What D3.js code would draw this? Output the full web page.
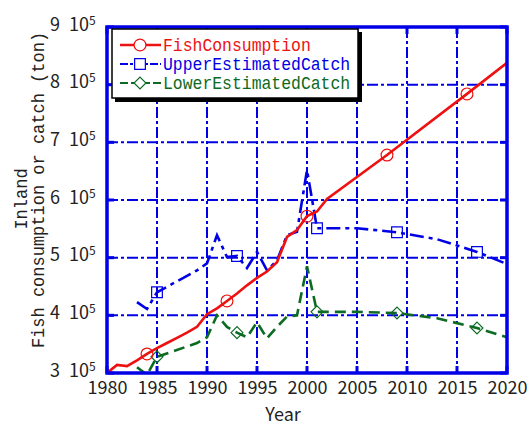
<!DOCTYPE html>
<html>
<head>
<meta charset="utf-8">
<script src="https://cdn.jsdelivr.net/npm/d3@7"></script>
<style>
  body { margin: 0; background: #fff; }
  svg { display: block; }
</style>
</head>
<body>
<div id="chart"></div>
<script>
// values (tons)
var fishYears = [1980,1981,1982,1983,1984,1985,1986,1987,1988,1989,1990,1991,1992,1993,1994,1995,1996,1997,1998,1999,2000,2001,2002,2008,2016,2020];
var fishValues = [3.00e5,3.14e5,3.12e5,3.22e5,3.33e5,3.43e5,3.52e5,3.61e5,3.70e5,3.80e5,4.02e5,4.12e5,4.25e5,4.38e5,4.52e5,4.65e5,4.76e5,4.92e5,5.36e5,5.48e5,5.72e5,5.80e5,6.02e5,6.78e5,7.84e5,8.38e5];
var fishMarkYears = [1984,1992,2000,2008,2016];

var upperYears = [1983,1984,1985,1989,1990,1991,1992,1993,1994,1995,1996,1997,1998,1999,2000,2001,2005,2009,2013,2017,2020];
var upperValues = [4.23e5,4.11e5,4.40e5,4.78e5,4.90e5,5.39e5,5.01e5,5.03e5,4.82e5,5.10e5,4.78e5,4.95e5,5.39e5,5.45e5,6.52e5,5.51e5,5.51e5,5.44e5,5.32e5,5.10e5,4.89e5];
var upperMarkYears = [1985,1993,2001,2009,2017];

var lowerYears = [1983,1984,1985,1989,1990,1991,1992,1993,1994,1995,1996,1997,1998,1999,2000,2001,2005,2009,2013,2017,2020];
var lowerValues = [3.10e5,2.97e5,3.28e5,3.52e5,3.62e5,4.00e5,3.80e5,3.70e5,3.62e5,3.88e5,3.60e5,3.80e5,3.98e5,4.00e5,4.85e5,4.06e5,4.06e5,4.04e5,3.95e5,3.78e5,3.62e5];
var lowerMarkYears = [1985,1993,2001,2009,2017];

var xTicks = [1980,1985,1990,1995,2000,2005,2010,2015,2020];
var yTicks = [3e5,4e5,5e5,6e5,7e5,8e5,9e5];
var legendLabels = ["FishConsumption","UpperEstimatedCatch","LowerEstimatedCatch"];

var W = 529, H = 425;
var pL = 107, pR = 507, pT = 27, pB = 373;
var BLUE = "#0000e6", RED = "#ee1111", GREEN = "#0b6b22", INK = "#222";

var svg = d3.select("#chart").append("svg").attr("width", W).attr("height", H);

var x = d3.scaleLinear().domain([1980, 2020]).range([pL, pR]);
var y = d3.scaleLinear().domain([3e5, 9e5]).range([pB, pT]);

svg.append("defs").append("clipPath").attr("id", "plotclip")
    .append("rect").attr("x", pL).attr("y", pT)
    .attr("width", pR - pL).attr("height", pB - pT);

// grid, dash-dot
var grid = svg.append("g");
grid.selectAll("line.vx").data(xTicks.slice(1, -1)).enter().append("line")
    .attr("x1", function(d) { return x(d); }).attr("x2", function(d) { return x(d); })
    .attr("y1", pT).attr("y2", pB)
    .attr("stroke", BLUE).attr("stroke-width", 2).attr("stroke-dasharray", "11,3,3,3");
grid.selectAll("line.hy").data(yTicks.slice(1, -1)).enter().append("line")
    .attr("y1", function(d) { return y(d); }).attr("y2", function(d) { return y(d); })
    .attr("x1", pL).attr("x2", pR)
    .attr("stroke", BLUE).attr("stroke-width", 2).attr("stroke-dasharray", "11,3,3,3");

// major ticks inward
xTicks.forEach(function(d) {
    grid.append("line").attr("x1", x(d)).attr("x2", x(d)).attr("y1", pB).attr("y2", pB - 7)
        .attr("stroke", BLUE).attr("stroke-width", 3);
    grid.append("line").attr("x1", x(d)).attr("x2", x(d)).attr("y1", pT).attr("y2", pT + 7)
        .attr("stroke", BLUE).attr("stroke-width", 3);
});
yTicks.forEach(function(d) {
    grid.append("line").attr("y1", y(d)).attr("y2", y(d)).attr("x1", pL).attr("x2", pL + 7)
        .attr("stroke", BLUE).attr("stroke-width", 3);
    grid.append("line").attr("y1", y(d)).attr("y2", y(d)).attr("x1", pR).attr("x2", pR - 7)
        .attr("stroke", BLUE).attr("stroke-width", 3);
});

// series
function series(years, values) {
    return years.map(function(d, i) { return [d, values[i]]; });
}
function valueAt(years, values, yr) {
    return values[years.indexOf(yr)];
}
var line = d3.line().x(function(d) { return x(d[0]); }).y(function(d) { return y(d[1]); });

var plot = svg.append("g").attr("clip-path", "url(#plotclip)");

plot.append("path").datum(series(lowerYears, lowerValues)).attr("d", line)
    .attr("fill", "none").attr("stroke", GREEN).attr("stroke-width", 2.6)
    .attr("stroke-dasharray", "11,6");
plot.append("path").datum(series(upperYears, upperValues)).attr("d", line)
    .attr("fill", "none").attr("stroke", BLUE).attr("stroke-width", 2.6)
    .attr("stroke-dasharray", "14,5,4,5");
plot.append("path").datum(series(fishYears, fishValues)).attr("d", line)
    .attr("fill", "none").attr("stroke", RED).attr("stroke-width", 2.6);

// markers
var circleSym = d3.symbol().type(d3.symbolCircle).size(110);
var squareSym = d3.symbol().type(d3.symbolSquare).size(115);
var diamondSym = d3.symbol().type(d3.symbolDiamond2).size(90);

plot.selectAll("path.lm").data(lowerMarkYears).enter().append("path")
    .attr("d", diamondSym)
    .attr("transform", function(d) { return "translate(" + x(d) + "," + y(valueAt(lowerYears, lowerValues, d)) + ")"; })
    .attr("fill", "none").attr("stroke", GREEN).attr("stroke-width", 1.2);
plot.selectAll("path.um").data(upperMarkYears).enter().append("path")
    .attr("d", squareSym)
    .attr("transform", function(d) { return "translate(" + x(d) + "," + y(valueAt(upperYears, upperValues, d)) + ")"; })
    .attr("fill", "none").attr("stroke", BLUE).attr("stroke-width", 1.2);
plot.selectAll("path.fm").data(fishMarkYears).enter().append("path")
    .attr("d", circleSym)
    .attr("transform", function(d) { return "translate(" + x(d) + "," + y(valueAt(fishYears, fishValues, d)) + ")"; })
    .attr("fill", "none").attr("stroke", RED).attr("stroke-width", 1.2);

// frame
svg.append("rect").attr("x", pL).attr("y", pT)
    .attr("width", pR - pL).attr("height", pB - pT)
    .attr("fill", "none").attr("stroke", BLUE).attr("stroke-width", 3.5);

// x axis labels
var xAxis = d3.axisBottom(x).tickValues(xTicks).tickSize(0).tickPadding(0).tickFormat(d3.format("d"));
var gx = svg.append("g").attr("transform", "translate(0," + (pB + 21) + ")").call(xAxis);
gx.select(".domain").remove();
gx.selectAll("text").attr("dy", 0).attr("fill", INK)
    .style("font-family", "'Noto Sans CJK JP', 'Liberation Sans', sans-serif").style("font-size", "18px");

// y axis labels: "n 10^5"
var yAxis = d3.axisLeft(y).tickValues(yTicks).tickSize(0).tickFormat("");
var gy = svg.append("g").attr("transform", "translate(" + pL + ",0)").call(yAxis);
gy.select(".domain").remove();
gy.selectAll(".tick").each(function(d) {
    var g = d3.select(this);
    g.select("text").remove();
    var t = g.append("text").attr("y", 3).attr("fill", INK).attr("text-anchor", "start")
        .style("font-family", "'Noto Sans CJK JP', 'Liberation Sans', sans-serif").style("font-size", "18px");
    t.append("tspan").attr("x", -57).text(d / 1e5);
    t.append("tspan").attr("x", -38).text("10");
    t.append("tspan").attr("dy", -6).style("font-size", "12px").text("5");
});

// axis titles
var mono = "'Liberation Mono', 'DejaVu Sans Mono', monospace";
svg.append("text").attr("transform", "translate(283,421)").attr("text-anchor", "middle")
    .attr("fill", INK).style("font-family", "'Noto Sans CJK JP', sans-serif").style("font-size", "18px")
    .text("Year");
svg.append("text").attr("transform", "translate(27,199) rotate(-90)").attr("text-anchor", "middle")
    .attr("fill", INK).style("font-family", mono).style("font-size", "19px")
    .attr("textLength", 6 * 10.2).attr("lengthAdjust", "spacingAndGlyphs")
    .text("Inland");
svg.append("text").attr("transform", "translate(44,190) rotate(-90)").attr("text-anchor", "middle")
    .attr("fill", INK).style("font-family", mono).style("font-size", "19px")
    .attr("textLength", 31 * 10.2).attr("lengthAdjust", "spacingAndGlyphs")
    .text("Fish consumption or catch (ton)");

// legend
var lg = svg.append("g");
lg.append("rect").attr("x", 115).attr("y", 32).attr("width", 247).attr("height", 70).attr("fill", "#000");
lg.append("rect").attr("x", 112).attr("y", 29).attr("width", 246).attr("height", 69)
    .attr("fill", "#fff").attr("stroke", "#000").attr("stroke-width", 1.5);

var legColors = [RED, BLUE, GREEN];
var legDash = [null, "8,2,3,2", "8,3"];
var legSym = [circleSym, squareSym, diamondSym];
legendLabels.forEach(function(name, i) {
    var ly = 45 + i * 19;
    lg.append("line").attr("x1", 120).attr("x2", 161).attr("y1", ly).attr("y2", ly)
        .attr("stroke", legColors[i]).attr("stroke-width", i === 0 ? 2.6 : 2)
        .attr("stroke-dasharray", legDash[i]);
    lg.append("path").attr("d", legSym[i])
        .attr("transform", "translate(140," + ly + ")")
        .attr("fill", "#fff").attr("stroke", legColors[i]).attr("stroke-width", 1.2);
    lg.append("text").attr("x", 163).attr("y", ly + 6).attr("fill", legColors[i])
        .style("font-family", mono).style("font-size", "19px")
        .attr("textLength", name.length * 9.85).attr("lengthAdjust", "spacingAndGlyphs")
        .text(name);
});
</script>
</body>
</html>
